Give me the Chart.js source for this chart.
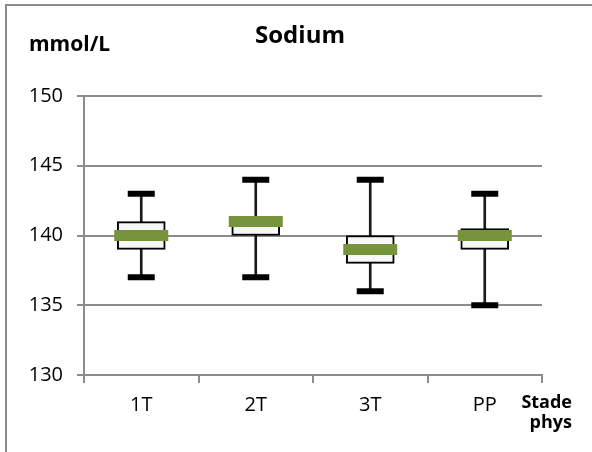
<!DOCTYPE html>
<html>
<head>
<meta charset="utf-8">
<script src="https://cdn.jsdelivr.net/npm/chart.js@4/dist/chart.umd.min.js"></script>
<style>
  html, body { margin: 0; padding: 0; background: #ffffff; }
  #wrap { position: relative; width: 592px; height: 452px; }
</style>
</head>
<body>
<div id="wrap"><canvas id="c" width="592" height="452"></canvas></div>
<script>
// Sodium levels per physiological stage (mmol/L)
const categories = ['1T', '2T', '3T', 'PP'];
const minValues = [137, 137, 136, 135];
const q1Values = [139, 140, 138, 139];
const medianValues = [140, 141, 139, 140];
const q3Values = [141, 141, 140, 140.5];
const maxValues = [143, 144, 144, 143];
const yTicks = [130, 135, 140, 145, 150];

const FONT = "'Open Sans', 'DejaVu Sans', sans-serif";
const GRID = '#8c8c8c';

// Frame, title and axis captions
const decorations = {
  id: 'decorations',
  afterDraw(chart) {
    const ctx = chart.ctx;
    const area = chart.chartArea;
    ctx.save();
    ctx.strokeStyle = GRID;
    ctx.lineWidth = 2;
    ctx.beginPath();
    ctx.moveTo(6, 452);
    ctx.lineTo(6, 5);
    ctx.lineTo(592, 5);
    ctx.stroke();

    ctx.fillStyle = '#000000';
    ctx.textBaseline = 'alphabetic';
    ctx.font = 'bold 24px ' + FONT;
    ctx.textAlign = 'center';
    ctx.fillText('Sodium', 300, 43);

    ctx.font = 'bold 21px ' + FONT;
    ctx.textAlign = 'left';
    ctx.fillText('mmol/L', 29, 51);

    ctx.font = 'bold 18px ' + FONT;
    ctx.textAlign = 'right';
    ctx.fillText('Stade', area.right + 30, 408);
    ctx.fillText('phys', area.right + 30, 428);
    ctx.restore();
  }
};

new Chart(document.getElementById('c'), {
  type: 'bar',
  data: {
    labels: categories,
    datasets: [
      {
        type: 'line',
        label: 'median',
        data: medianValues,
        showLine: false,
        pointStyle: 'line',
        pointRadius: 27,
        pointHoverRadius: 27,
        pointBorderWidth: 11,
        pointHoverBorderWidth: 11,
        pointBorderColor: '#77933c',
        pointBackgroundColor: '#77933c',
        order: 0
      },
      {
        type: 'line',
        label: 'max',
        data: maxValues,
        showLine: false,
        pointStyle: 'line',
        pointRadius: 13.5,
        pointHoverRadius: 13.5,
        pointBorderWidth: 6,
        pointHoverBorderWidth: 6,
        pointBorderColor: '#000000',
        order: 1
      },
      {
        type: 'line',
        label: 'min',
        data: minValues,
        showLine: false,
        pointStyle: 'line',
        pointRadius: 13.5,
        pointHoverRadius: 13.5,
        pointBorderWidth: 6,
        pointHoverBorderWidth: 6,
        pointBorderColor: '#000000',
        order: 1
      },
      {
        label: 'box',
        data: categories.map((c, i) => [q1Values[i], q3Values[i]]),
        backgroundColor: '#f7f7f7',
        borderColor: '#000000',
        borderWidth: 2,
        borderSkipped: false,
        barThickness: 48,
        grouped: false,
        order: 2
      },
      {
        label: 'whisker',
        data: categories.map((c, i) => [minValues[i], maxValues[i]]),
        backgroundColor: '#1a1a1a',
        borderWidth: 0,
        barThickness: 2,
        grouped: false,
        order: 3
      }
    ]
  },
  options: {
    responsive: false,
    animation: false,
    events: [],
    layout: { padding: { left: 0, right: 50, top: 96, bottom: 0 } },
    plugins: {
      legend: { display: false },
      tooltip: { enabled: false },
      title: { display: false }
    },
    scales: {
      x: {
        type: 'category',
        offset: true,
        grid: {
          offset: true,
          drawOnChartArea: false,
          drawTicks: true,
          tickLength: 8,
          color: GRID,
          lineWidth: 2
        },
        border: { display: true, color: GRID, width: 2 },
        ticks: {
          color: '#000000',
          font: { family: FONT, size: 20 },
          padding: 10,
          maxRotation: 0
        },
        afterFit(scale) { scale.height = 77; }
      },
      y: {
        min: 130,
        max: 150,
        afterBuildTicks(scale) { scale.ticks = yTicks.map(v => ({ value: v })); },
        grid: {
          color: GRID,
          lineWidth: 2,
          tickLength: 7
        },
        border: { display: true, color: GRID, width: 2 },
        ticks: {
          color: '#000000',
          font: { family: FONT, size: 20 },
          padding: 14
        },
        afterFit(scale) { scale.width = 84; }
      }
    }
  },
  plugins: [decorations]
});
</script>
</body>
</html>
